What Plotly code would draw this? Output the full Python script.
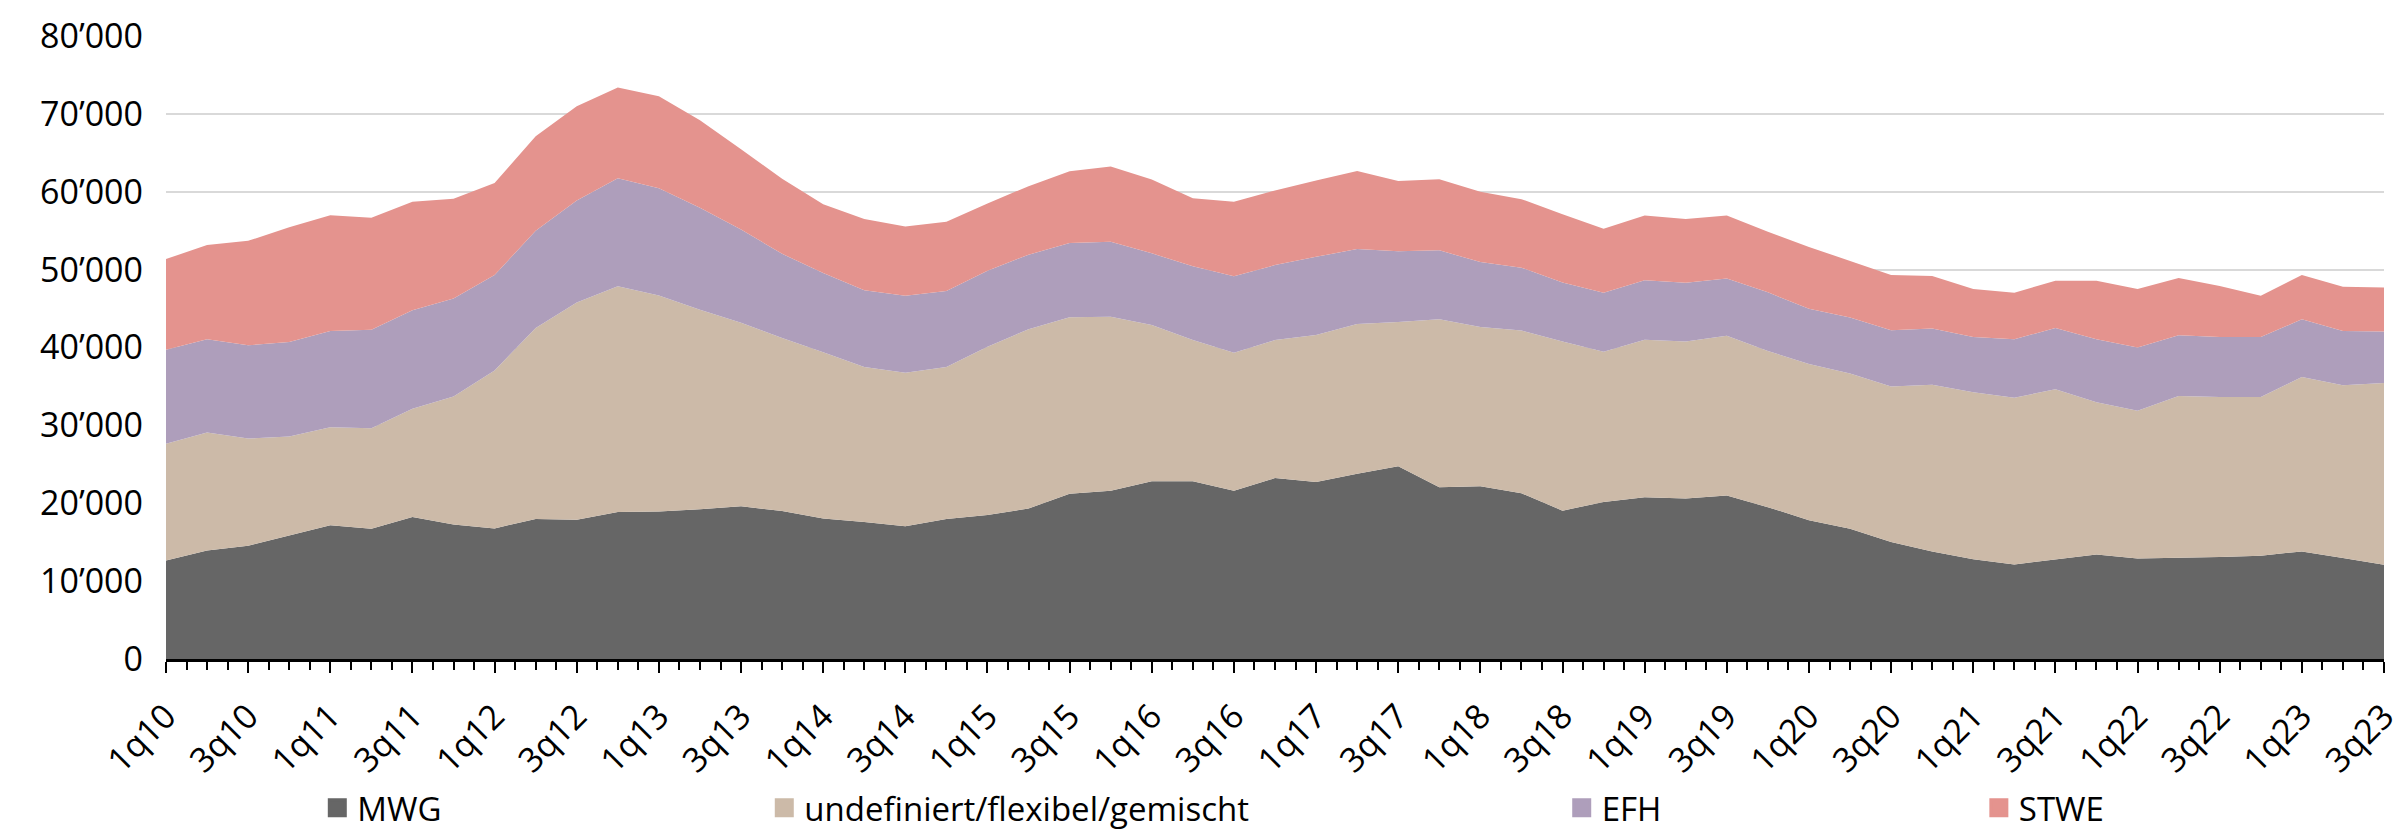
import plotly.graph_objects as go

quarters = [
    "1q10", "2q10", "3q10", "4q10", "1q11", "2q11", "3q11", "4q11",
    "1q12", "2q12", "3q12", "4q12", "1q13", "2q13", "3q13", "4q13",
    "1q14", "2q14", "3q14", "4q14", "1q15", "2q15", "3q15", "4q15",
    "1q16", "2q16", "3q16", "4q16", "1q17", "2q17", "3q17", "4q17",
    "1q18", "2q18", "3q18", "4q18", "1q19", "2q19", "3q19", "4q19",
    "1q20", "2q20", "3q20", "4q20", "1q21", "2q21", "3q21", "4q21",
    "1q22", "2q22", "3q22", "4q22", "1q23", "2q23", "3q23",
]

mwg = [12650, 13930, 14540, 15880, 17160, 16710, 18220, 17270, 16770, 17990,
       17880, 18890, 18940, 19220, 19610, 19000, 18050, 17600, 17050, 17990,
       18500, 19330, 21230, 21620, 22840, 22840, 21620, 23230, 22730, 23790,
       24740, 22060, 22170, 21280, 19050, 20170, 20780, 20610, 21000, 19500,
       17830, 16710, 15040, 13820, 12810, 12140, 12810, 13430, 12920, 12980,
       13090, 13260, 13820, 12980, 12090]

undefiniert = [14980, 15150, 13760, 12700, 12590, 12930, 13920, 16430, 20280, 24520,
               27910, 28970, 27750, 25630, 23570, 22230, 21340, 19890, 19720, 19500,
               21610, 23010, 22670, 22340, 20060, 18110, 17710, 17720, 18890, 19220,
               18550, 21560, 20450, 20890, 21730, 19270, 20220, 20170, 20500, 20050,
               20050, 19950, 19950, 21390, 21450, 21400, 21840, 19550, 18950, 20780,
               20560, 20390, 22390, 22170, 23340]

efh = [12090, 11980, 11980, 12140, 12370, 12640, 12650, 12600, 12250, 12480,
       13100, 13870, 13760, 13090, 11970, 10800, 10190, 9860, 9860, 9750,
       9750, 9580, 9530, 9630, 9190, 9470, 9810, 9630, 10020, 9640,
       9080, 8860, 8350, 8080, 7580, 7580, 7640, 7520, 7360, 7530,
       7080, 7190, 7240, 7240, 7080, 7520, 7860, 8080, 8130, 7800,
       7690, 7690, 7410, 6970, 6630]

stwe = [11640, 12090, 13420, 14710, 14870, 14380, 13930, 12810, 11810, 12140,
        12080, 11660, 11800, 11250, 10310, 9640, 8800, 9140, 8910, 8920,
        8640, 8800, 9190, 9640, 9470, 8740, 9580, 9590, 9810, 10020,
        9020, 9140, 9030, 8800, 8740, 8240, 8300, 8190, 8080, 7790,
        7960, 7290, 7070, 6740, 6180, 5960, 6070, 7520, 7520, 7350,
        6570, 5290, 5680, 5680, 5630]

series_names = ["MWG", "undefiniert/flexibel/gemischt", "EFH", "STWE"]
series_values = [mwg, undefiniert, efh, stwe]
series_colors = ["#666666", "#CCBAA8", "#AE9EBB", "#E4938E"]

# legend anchor positions (container fraction) for each legend entry
legend_x = [0.1285, 0.3142, 0.6455, 0.8188]
legend_ids = ["legend", "legend2", "legend3", "legend4"]

FONT = "Open Sans"
FS_TICK = 34
FS_LEG = 33

xpos = list(range(len(quarters)))

fig = go.Figure()
for name, vals, col in zip(series_names, series_values, series_colors):
    fig.add_trace(go.Scatter(
        x=xpos, y=vals, name=name, mode="lines", stackgroup="one",
        line=dict(width=0, color=col), fillcolor=col, showlegend=False,
        hoverinfo="skip",
    ))

for name, col, lid in zip(series_names, series_colors, legend_ids):
    fig.add_trace(go.Scatter(
        x=[None], y=[None], name=name, mode="markers",
        marker=dict(symbol="square", size=16, color=col, line=dict(width=3, color=col)),
        showlegend=True, legend=lid,
    ))

legend_common = dict(
    orientation="h", xref="container", yref="container", y=0.041,
    xanchor="left", yanchor="middle", font=dict(family=FONT, size=FS_LEG, color="#000000"),
    bgcolor="rgba(0,0,0,0)", borderwidth=0, itemwidth=30,
)
legend_layout = {}
for lid, lx in zip(legend_ids, legend_x):
    legend_layout[lid] = dict(legend_common, x=lx)

fig.update_layout(
    width=2407, height=834,
    margin=dict(l=158, r=31, t=28, b=183, autoexpand=False),
    paper_bgcolor="white", plot_bgcolor="white",
    font=dict(family=FONT, size=FS_TICK, color="#000000"),
    separators=".’",
    showlegend=True,
    **legend_layout,
)

fig.update_xaxes(
    type="linear", range=[0, len(quarters) - 1], automargin=False,
    tickmode="array", tickvals=xpos[::2], ticktext=quarters[::2],
    tickangle=-45, ticks="outside", ticklen=11, tickwidth=2, tickcolor="#000000",
    showline=True, linecolor="#000000", linewidth=2.5,
    showgrid=False, zeroline=False,
    tickfont=dict(family=FONT, size=FS_TICK, color="#000000"),
    ticklabelstandoff=10,
    minor=dict(dtick=0.5, tick0=0, ticks="outside", ticklen=8, tickwidth=1.5,
               tickcolor="#000000", showgrid=False),
)
fig.update_yaxes(
    range=[0, 80000], dtick=10000, tick0=0, tickformat=",d", automargin=False,
    showgrid=True, gridcolor="#D9D9D9", gridwidth=2,
    zeroline=False, showline=False, ticks="",
    tickfont=dict(family=FONT, size=FS_TICK, color="#000000"),
    ticklabelstandoff=22,
)

fig.write_html("out.html")
